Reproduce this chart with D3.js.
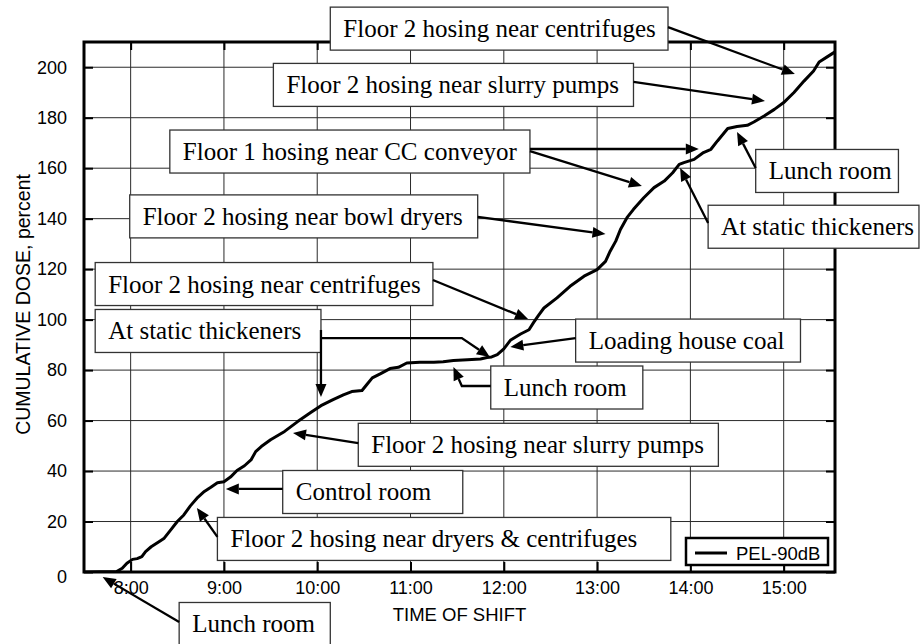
<!DOCTYPE html>
<html>
<head>
<meta charset="utf-8">
<script src="https://cdn.jsdelivr.net/npm/d3@7"></script>
<style>
  body { margin: 0; background: #fff; }
  svg { display: block; }
</style>
</head>
<body>
<svg id="chart" width="921" height="644"></svg>
<script>
// Cumulative noise dose over one work shift (time in decimal hours)
const shiftHours = [7.50,7.85,7.91,7.96,8.02,8.07,8.12,8.16,8.22,8.32,8.36,8.43,8.50,8.57,8.64,8.72,8.79,8.86,8.93,9.00,
  9.07,9.14,9.22,9.29,9.34,9.40,9.50,9.65,9.79,9.93,10.04,10.17,10.28,10.37,10.48,10.53,10.59,10.68,10.78,10.87,
  10.96,11.10,11.25,11.35,11.46,11.61,11.75,11.82,11.87,11.93,12.00,12.07,12.18,12.27,12.32,12.37,12.43,12.57,12.71,12.86,
  13.00,13.09,13.14,13.20,13.25,13.32,13.39,13.50,13.61,13.72,13.81,13.88,13.93,14.04,14.14,14.22,14.29,14.40,14.50,14.61,
  14.68,14.79,14.90,15.00,15.11,15.22,15.32,15.38,15.47,15.55];
const doseValues = [0,0.2,1.5,3.5,5.0,5.3,6.1,8.1,10.0,12.4,13.4,16.7,20.0,22.6,26.2,29.6,31.9,33.6,35.4,35.8,
  37.6,40.2,42.1,44.4,47.7,49.7,52.4,55.7,59.6,63.2,65.9,68.3,70.2,71.5,71.9,74.2,76.9,78.6,80.6,81.1,
  82.8,83.1,83.1,83.3,83.8,84.1,84.4,85.0,85.2,86.1,88.4,91.8,94.3,96.0,98.9,101.6,104.6,108.6,113.2,117.2,
  119.8,123.1,127.1,131.1,135.7,140.4,143.7,148.3,152.3,154.9,158.2,161.5,162.2,163.5,166.2,167.5,170.8,175.7,176.5,177.0,
  178.3,180.7,183.3,186.0,190.0,194.6,198.5,202.1,204.2,206.1];

const hourTicks = [8, 9, 10, 11, 12, 13, 14, 15];
const hourLabels = ["8:00", "9:00", "10:00", "11:00", "12:00", "13:00", "14:00", "15:00"];
const doseTicks = [0, 20, 40, 60, 80, 100, 120, 140, 160, 180, 200];
const seriesName = "PEL-90dB";
const xTitle = "TIME OF SHIFT";
const yTitle = "CUMULATIVE DOSE, percent";

// Location notes: label text, label span [start hour, end hour, centre dose], pointer paths in (hour, dose)
const noteTexts = [
  "Floor 2 hosing near centrifuges",
  "Floor 2 hosing near slurry pumps",
  "Floor 1 hosing near CC conveyor",
  "Floor 2 hosing near bowl dryers",
  "Floor 2 hosing near centrifuges",
  "At static thickeners",
  "Loading house coal",
  "Lunch room",
  "Floor 2 hosing near slurry pumps",
  "Control room",
  "Floor 2 hosing near dryers & centrifuges",
  "Lunch room",
  "Lunch room",
  "At static thickeners"
];
const noteSpans = [
  [10.14, 13.76, 215.3],
  [9.53, 13.39, 193.0],
  [8.42, 12.28, 166.6],
  [7.99, 11.72, 140.9],
  [7.62, 11.24, 114.1],
  [7.62, 10.04, 95.5],
  [12.77, 15.18, 91.7],
  [11.86, 13.49, 73.1],
  [10.44, 14.30, 50.4],
  [9.63, 11.56, 31.7],
  [8.93, 13.79, 13.1],
  [8.52, 10.14, -20.6],
  [14.70, 16.23, 158.9],
  [14.19, 16.45, 136.8]
];
const notePointers = [
  [[[13.76, 215.9], [15.12, 197.3]]],
  [[[13.39, 194.2], [14.80, 186.6]]],
  [[[12.28, 167.6], [14.09, 167.6]], [[12.28, 166.8], [13.48, 152.9]]],
  [[[11.72, 140.7], [13.09, 133.9]]],
  [[[11.24, 115.7], [12.26, 100.2]]],
  [[[10.04, 95.9], [10.04, 69.3]], [[10.04, 92.7], [11.55, 92.7], [11.85, 85.2]]],
  [[[12.77, 92.7], [12.07, 89.2]]],
  [[[11.86, 73.7], [11.55, 73.7], [11.46, 81.2]]],
  [[[10.44, 51.1], [9.74, 55.1]]],
  [[[9.63, 32.9], [9.02, 32.9]]],
  [[[8.93, 13.9], [8.71, 25.4]]],
  [[[8.52, -19.8], [7.70, -2.0]]],
  [[[14.70, 160.1], [14.50, 174.3]]],
  [[[14.19, 138.3], [13.89, 160.1]]]
];

const svg = d3.select("#chart");
const sans = "'Liberation Sans', Arial, sans-serif";
const serif = "'Liberation Serif', 'Times New Roman', serif";

const x = d3.scaleLinear().domain([7.5, 15.55]).range([84, 835]);
const y = d3.scaleLinear().domain([0, 210]).range([572, 42]);
const [plotLeft, plotRight] = x.range();
const [plotBottom, plotTop] = y.range();

// grid
const grid = svg.append("g").attr("stroke", "#2a2a2a").attr("stroke-width", 1);
grid.selectAll(".vg").data(hourTicks).join("line")
  .attr("x1", d => x(d)).attr("x2", d => x(d))
  .attr("y1", plotBottom).attr("y2", plotTop);
grid.selectAll(".hg").data(doseTicks.filter(d => d > 0)).join("line")
  .attr("x1", plotLeft).attr("x2", plotRight)
  .attr("y1", d => y(d)).attr("y2", d => y(d));

// dose curve
svg.append("clipPath").attr("id", "plotClip").append("rect")
  .attr("x", plotLeft).attr("y", plotTop)
  .attr("width", plotRight - plotLeft).attr("height", plotBottom - plotTop);
const series = d3.zip(shiftHours, doseValues);
svg.append("path")
  .datum(series)
  .attr("clip-path", "url(#plotClip)")
  .attr("fill", "none")
  .attr("stroke", "#000")
  .attr("stroke-width", 3)
  .attr("stroke-linejoin", "round")
  .attr("d", d3.line().x(d => x(d[0])).y(d => y(d[1])));

// axes (inward ticks)
function styleAxis(g) {
  g.select(".domain").remove();
  g.selectAll(".tick line").attr("stroke", "#000").attr("stroke-width", 2);
  g.selectAll("text").attr("font-family", sans).attr("font-size", 18).attr("fill", "#000");
}
svg.append("g").attr("transform", `translate(0,${plotBottom})`)
  .call(d3.axisBottom(x).tickValues(hourTicks).tickFormat((d, i) => hourLabels[i]).tickSize(-10).tickPadding(9))
  .call(styleAxis);
svg.append("g").attr("transform", `translate(0,${plotTop})`)
  .call(d3.axisTop(x).tickValues(hourTicks).tickFormat("").tickSize(-8))
  .call(styleAxis);
const yAxisG = svg.append("g").attr("transform", `translate(${plotLeft},0)`)
  .call(d3.axisLeft(y).tickValues(doseTicks).tickSize(-9).tickPadding(17))
  .call(styleAxis);
yAxisG.selectAll(".tick").filter(d => d === 0).select("text").attr("dy", "0.6em");
svg.append("g").attr("transform", `translate(${plotRight},0)`)
  .call(d3.axisRight(y).tickValues(doseTicks).tickFormat("").tickSize(-9))
  .call(styleAxis);

// frame
svg.append("rect")
  .attr("x", plotLeft).attr("y", plotTop)
  .attr("width", plotRight - plotLeft).attr("height", plotBottom - plotTop)
  .attr("fill", "none").attr("stroke", "#000").attr("stroke-width", 3);

// axis titles
svg.append("text")
  .attr("x", (plotLeft + plotRight) / 2).attr("y", 621)
  .attr("text-anchor", "middle")
  .attr("font-family", sans).attr("font-size", 18.5)
  .text(xTitle);
svg.append("text")
  .attr("transform", `translate(30,${y(106)}) rotate(-90)`)
  .attr("text-anchor", "middle")
  .attr("font-family", sans).attr("font-size", 19.5)
  .text(yTitle);

// legend
const legend = svg.append("g").attr("transform", `translate(${plotRight - 149},${plotBottom - 34})`);
legend.append("rect").attr("width", 142).attr("height", 27)
  .attr("fill", "#fff").attr("stroke", "#000").attr("stroke-width", 2.5);
legend.append("line").attr("x1", 9).attr("x2", 41).attr("y1", 15).attr("y2", 15)
  .attr("stroke", "#000").attr("stroke-width", 3);
legend.append("text").attr("x", 50).attr("y", 22)
  .attr("font-family", sans).attr("font-size", 18.5).text(seriesName);

// note labels
const boxH = 43;
const notes = svg.append("g");
noteTexts.forEach((label, i) => {
  const [h0, h1, v] = noteSpans[i];
  const x0 = x(h0), x1 = x(h1), cy = y(v);
  notes.append("rect")
    .attr("x", x0).attr("y", cy - boxH / 2).attr("width", x1 - x0).attr("height", boxH)
    .attr("fill", "#fff").attr("stroke", "#333").attr("stroke-width", 1.3);
  notes.append("text")
    .attr("x", x0 + 13).attr("y", cy + 8.5)
    .attr("font-family", serif).attr("font-size", 25).attr("fill", "#000")
    .text(label);
});

// pointers with filled heads
const pointerLine = d3.line();
const headLen = 13, headHalf = 5.5;
notePointers.forEach(paths => {
  paths.forEach(path => {
    const pts = path.map(([h, v]) => [x(h), y(v)]);
    const tip = pts[pts.length - 1];
    const prev = pts[pts.length - 2];
    const dx = tip[0] - prev[0], dy = tip[1] - prev[1];
    const len = Math.hypot(dx, dy);
    const ux = dx / len, uy = dy / len;
    const base = [tip[0] - ux * headLen, tip[1] - uy * headLen];
    const shaft = pts.slice(0, -1).concat([base]);
    notes.append("path")
      .attr("d", pointerLine(shaft))
      .attr("fill", "none").attr("stroke", "#000").attr("stroke-width", 2.3)
      .attr("stroke-linejoin", "miter");
    const px = -uy * headHalf, py = ux * headHalf;
    notes.append("path")
      .attr("d", `M${tip[0]},${tip[1]}L${base[0] + px},${base[1] + py}L${base[0] - px},${base[1] - py}Z`)
      .attr("fill", "#000");
  });
});
</script>
</body>
</html>
